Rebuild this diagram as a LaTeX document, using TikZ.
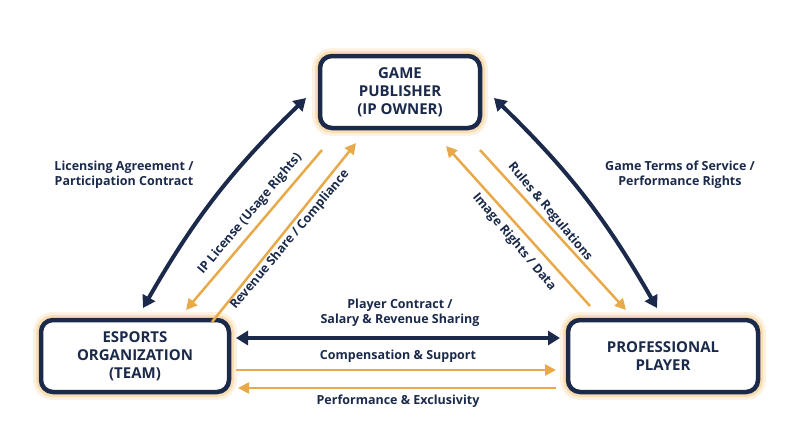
\documentclass[tikz,border=0pt]{standalone}
\usepackage{fontspec}
\setmainfont{Open Sans}
\usetikzlibrary{arrows.meta}
\definecolor{navy}{HTML}{1B2A4A}
\definecolor{gold}{HTML}{E8A94A}
\definecolor{glow}{HTML}{F6C77E}
\begin{document}
\begin{tikzpicture}[x=1pt,y=-1pt,
 box/.style={draw=navy,line width=4.5pt,rounded corners=12pt,fill=white,align=center,
   font=\fontsize{15}{18}\selectfont\bfseries,text=navy,inner sep=0pt,
   preaction={draw=glow,line width=16pt,opacity=0.25},
   preaction={draw=glow,line width=10pt,opacity=0.45}},
 nav/.style={draw=navy,line width=4pt,{Triangle[length=12pt,width=14pt]}-{Triangle[length=12pt,width=14pt]}},
 gd/.style={draw=gold,line width=2.5pt,-{Triangle[length=11pt,width=11pt]}},
 lab/.style={font=\fontsize{12.5}{15}\selectfont\bfseries,text=navy,align=center}]
\useasboundingbox (0,0) rectangle (800,447);
\node[box,minimum width=160pt,minimum height=72pt] (gp) at (400,92) {GAME\\PUBLISHER\\(IP OWNER)};
\node[box,minimum width=188pt,minimum height=72pt] (eo) at (135,356) {ESPORTS\\ORGANIZATION\\(TEAM)};
\node[box,minimum width=190pt,minimum height=72pt] (pp) at (663,356) {PROFESSIONAL\\PLAYER};
\coordinate (a1) at (306,98); \coordinate (a2) at (143,308);
\coordinate (b1) at (494,98); \coordinate (b2) at (657,308);
\draw[nav] (a1) to[bend right=8] (a2);
\draw[nav] (b1) to[bend left=8] (b2);
\coordinate (c1) at (322,150); \coordinate (c2) at (186,310);
\coordinate (d1) at (212,322); \coordinate (d2) at (356,143);
\draw[gd] (c1) -- (c2);
\draw[gd] (d1) -- (d2);
\coordinate (e1) at (590,306); \coordinate (e2) at (446,146);
\coordinate (f1) at (480,150); \coordinate (f2) at (626,310);
\draw[gd] (e1) -- (e2);
\draw[gd] (f1) -- (f2);
\coordinate (g1) at (236,338); \coordinate (g2) at (560,338);
\draw[nav] (g1) -- (g2);
\coordinate (h1) at (236,370); \coordinate (h2) at (556,370);
\draw[gd] (h1) -- (h2);
\coordinate (i1) at (556,388); \coordinate (i2) at (238,388);
\draw[gd] (i1) -- (i2);
\node[lab] (l1) at (124,175) {Licensing Agreement /\\Participation Contract};
\node[lab] (l2) at (680,175) {Game Terms of Service /\\Performance Rights};
\node[lab] (l3) at (400,313) {Player Contract /\\Salary \& Revenue Sharing};
\node[lab] (l4) at (398,356) {Compensation \& Support};
\node[lab] (l5) at (398,401) {Performance \& Exclusivity};
\node[lab,rotate=50] (l6) at (250,214) {IP License (Usage Rights)};
\node[lab,rotate=50] (l7) at (290,240) {Revenue Share / Compliance};
\node[lab,rotate=-50] (l8) at (550,212) {Rules \& Regulations};
\node[lab,rotate=-50] (l9) at (514,242) {Image Rights / Data};
\end{tikzpicture}
\end{document}
